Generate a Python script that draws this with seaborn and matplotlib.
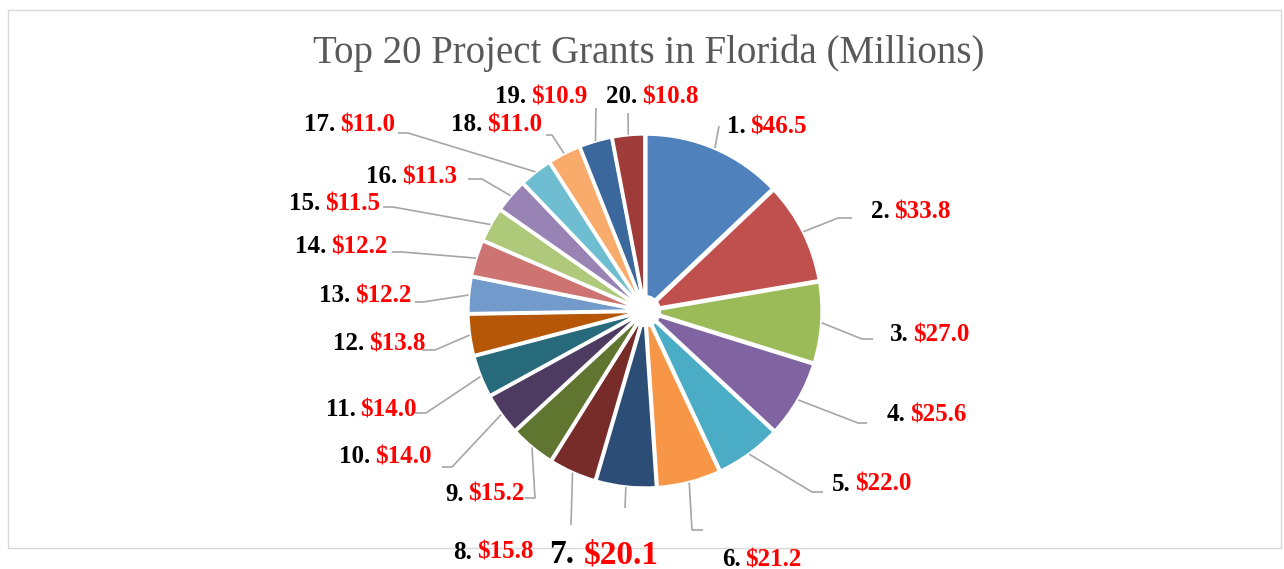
import matplotlib
matplotlib.use("Agg")
import matplotlib.pyplot as plt
from matplotlib.patches import Rectangle
import numpy as np
import seaborn as sns

# grant amounts in millions, ranked
ranks = [f"{i}." for i in range(1, 21)]
grants = [46.5, 33.8, 27.0, 25.6, 22.0, 21.2, 20.1, 15.8, 15.2, 14.0,
          14.0, 13.8, 12.2, 12.2, 11.5, 11.3, 11.0, 11.0, 10.9, 10.8]
value_labels = [f"${v:.1f}" for v in grants]

colors = ["#4F81BD", "#C0504D", "#9BBB59", "#8064A2", "#4BACC6",
          "#F79646", "#2C4D75", "#772C2A", "#5F7530", "#4D3B62",
          "#276A7C", "#B65708", "#729ACA", "#CD7371", "#AFC97A",
          "#9983B5", "#6FBDD1", "#F9AB6B", "#3A679C", "#9F3B38"]

# label layout (pixel positions on the 1284x569 canvas)
label_pos = [(748, 125), (892, 210), (911, 333), (908, 413), (853, 483),
             (743, 558), (579, 553), (475, 551), (466, 493), (373, 455),
             (358, 408), (367, 342), (353, 294), (329, 245), (323, 202),
             (400, 175), (338, 123), (485, 123), (529, 95), (640, 95)]
leader_end = [(719, 126), (852, 218), (873, 339), (867, 423), (823, 492),
              (703, 530), (625, 508), (571, 525), (525, 498), (442, 467),
              (415, 413), (422, 350), (415, 302), (392, 252), (383, 207),
              (468, 179), (398, 133), (546, 135), (596, 108), (628, 113)]
elbow_dx = [0, -14, -11, -9, -11, -11, 0, 0, 10, 10,
            11, 13, 8, 10, 10, 14, 10, 6, 0, 0]

W, H = 1284, 569
CX, CY, S = 645, 311, 175  # pie centre and radius in pixels


def to_data(x, y):
    return (x - CX) / S, (CY - y) / S


sns.set_style("white")
fig = plt.figure(figsize=(W / 100, H / 100), dpi=100)

# chart frame, drawn underneath everything else
fig.add_artist(Rectangle((8 / W, (H - 548) / H), 1273 / W, 538 / H,
                         transform=fig.transFigure, fill=False,
                         edgecolor="#D9D9D9", lw=1.0, zorder=-5))

ax = fig.add_axes([0, 0, 1, 1])
ax.patch.set_alpha(0)

wedges, _ = ax.pie(grants, colors=sns.color_palette(colors), startangle=90,
                   counterclock=False, radius=1.0, explode=[0.012] * len(grants),
                   wedgeprops=dict(edgecolor="white", linewidth=2.5, width=0.93))

# leader lines + two-tone labels
for i, w in enumerate(wedges):
    theta = np.deg2rad((w.theta1 + w.theta2) / 2)
    sx = w.center[0] + w.r * np.cos(theta)
    sy = w.center[1] + w.r * np.sin(theta)
    ex, ey = to_data(*leader_end[i])
    bx, _ = to_data(leader_end[i][0] + elbow_dx[i], leader_end[i][1])
    ax.plot([sx, bx, ex], [sy, ey, ey], color="#A6A6A6", lw=1.2,
            solid_capstyle="butt", zorder=1)

    fs = 24 if i == 6 else 18
    half_gap = 5 if i == 6 else 2.5
    jx, jy = label_pos[i]
    baseline = jy + (10 if i == 6 else 8)
    nx, ny = to_data(jx - half_gap, baseline)
    vx, vy = to_data(jx + half_gap, baseline)
    ax.text(nx, ny, ranks[i], ha="right", va="baseline", fontsize=fs,
            fontweight="bold", color="black", family="Liberation Serif")
    ax.text(vx, vy, value_labels[i], ha="left", va="baseline", fontsize=fs,
            fontweight="bold", color="#FF0000", family="Liberation Serif")

ax.set_aspect("auto")
ax.set_xlim(-CX / S, (W - CX) / S)
ax.set_ylim(-(H - CY) / S, CY / S)
ax.axis("off")

fig.text(649 / W, 1 - 53 / H, "Top 20 Project Grants in Florida (Millions)",
         ha="center", va="center", fontsize=28, color="#595959",
         family="Liberation Serif")

fig.savefig("out.png", dpi=100)
